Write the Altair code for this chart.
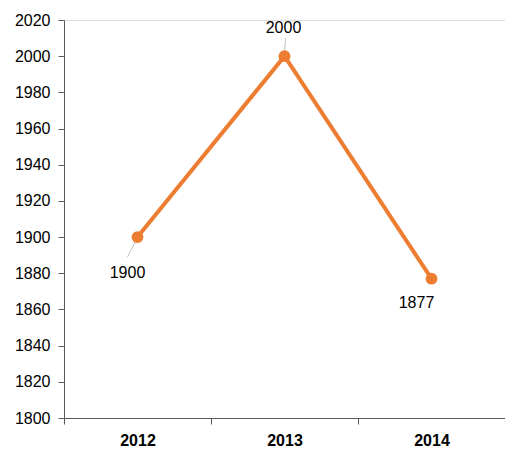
import altair as alt
import pandas as pd

years = ["2012", "2013", "2014"]
values = [1900, 2000, 1877]

df = pd.DataFrame({"year": years, "value": values})

FONT = "Liberation Sans"
ORANGE = "#ED7D31"

xenc = alt.X("year:N", scale=alt.Scale(type="band", paddingInner=0, paddingOuter=0),
             bandPosition=0.5, sort=years,
             axis=alt.Axis(title=None, labelAngle=0, labelFontWeight="bold", labelFontSize=16,
                           labelFont=FONT, labelColor="#000000", tickBand="extent",
                           domainColor="#595959", tickColor="#595959", tickSize=6,
                           labelPadding=8, grid=False))
yenc = alt.Y("value:Q", scale=alt.Scale(domain=[1800, 2020], nice=False, zero=False),
             axis=alt.Axis(title=None, values=list(range(1800, 2021, 20)), format="d",
                           labelFontSize=16, labelFont=FONT, labelColor="#000000",
                           domainColor="#595959", tickColor="#595959", tickSize=6,
                           labelPadding=8, grid=False))

base = alt.Chart(df)

line = base.mark_line(color=ORANGE, strokeWidth=4).encode(x=xenc, y=yenc)
pts = base.mark_circle(color=ORANGE, size=140, opacity=1).encode(x=xenc, y=yenc)

lead1 = base.transform_filter(alt.datum.year == "2012").mark_rule(
    color="#bfbfbf", strokeWidth=1, xOffset=-2, yOffset=4, x2Offset=-10, y2Offset=20
).encode(x=xenc, y=yenc, x2=alt.X2("year:N", bandPosition=0.5), y2="value:Q")
lead2 = base.transform_filter(alt.datum.year == "2013").mark_rule(
    color="#bfbfbf", strokeWidth=1, yOffset=-4, x2Offset=1, y2Offset=-18
).encode(x=xenc, y=yenc, x2=alt.X2("year:N", bandPosition=0.5), y2="value:Q")

txt_style = dict(font=FONT, fontSize=16, color="#000000")
t1 = base.transform_filter(alt.datum.year == "2012").mark_text(dx=-10, dy=36, **txt_style).encode(
    x=xenc, y=yenc, text="value:Q")
t2 = base.transform_filter(alt.datum.year == "2013").mark_text(dx=-1, dy=-28, **txt_style).encode(
    x=xenc, y=yenc, text="value:Q")
t3 = base.transform_filter(alt.datum.year == "2014").mark_text(dx=-15, dy=24, **txt_style).encode(
    x=xenc, y=yenc, text="value:Q")

chart = alt.layer(line, lead1, lead2, pts, t1, t2, t3).properties(
    width=441, height=398,
    autosize=alt.AutoSizeParams(type="none"),
    padding={"left": 56, "top": 12, "right": 0, "bottom": 30},
).configure_view(stroke=None).configure(background="white")

chart.save("out.html", embed_options={"renderer": "svg", "actions": False})
